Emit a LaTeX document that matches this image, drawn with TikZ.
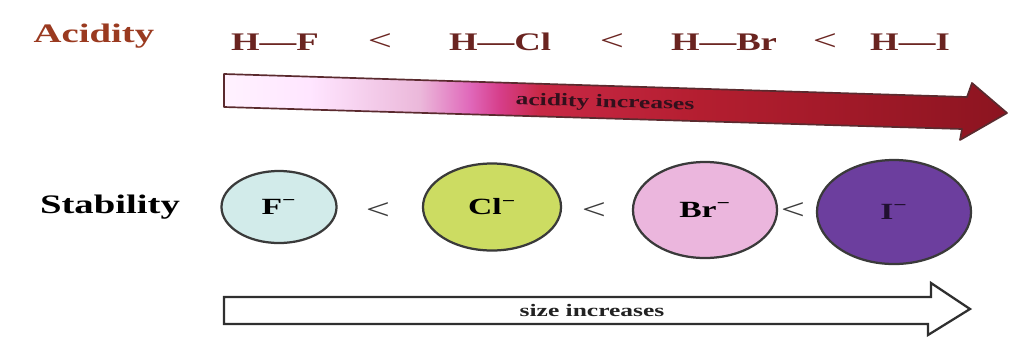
\documentclass[tikz,border=0pt]{standalone}
\usepackage{fontspec}
\setmainfont{Liberation Serif}[FakeStretch=1.45]
\usetikzlibrary{shapes.geometric}

\definecolor{acidred}{HTML}{9A3A20}
\definecolor{bondred}{HTML}{6A2420}
\definecolor{acidedge}{HTML}{5A2A2E}
\definecolor{sizeedge}{HTML}{2F2F2F}
\definecolor{ionedge}{HTML}{3A3A3A}
\definecolor{fluor}{HTML}{D2EBEA}
\definecolor{chlor}{HTML}{CCDC62}
\definecolor{brom}{HTML}{EBB6DD}
\definecolor{iod}{HTML}{6C3E9E}

% pale on the left, magenta, then deep red towards the tip
\pgfdeclarehorizontalshading{acidshade}{100bp}{%
  color(0bp)=(white!95!magenta);
  color(25bp)=(white!95!magenta);
  color(30.5bp)=(white!90!magenta);
  color(37.5bp)=({rgb,255:red,235;green,184;blue,218});
  color(40.7bp)=({rgb,255:red,224;green,104;blue,186});
  color(42.6bp)=({rgb,255:red,214;green,62;blue,138});
  color(45.2bp)=({rgb,255:red,200;green,40;blue,69});
  color(55.4bp)=({rgb,255:red,180;green,30;blue,48});
  color(75bp)=({rgb,255:red,140;green,20;blue,32});
  color(100bp)=({rgb,255:red,140;green,20;blue,32})}

\begin{document}
\begin{tikzpicture}[x=0.025cm, y=-0.025cm,
  rowlabel/.style={font=\bfseries\fontsize{19}{21}\selectfont},
  formula/.style={font=\bfseries\fontsize{18}{20}\selectfont, text=bondred},
  lessthan/.style={font=\fontsize{21}{22}\selectfont},
  ion/.style={ellipse, draw=ionedge, line width=1.6pt, inner sep=0pt,
    font=\bfseries\fontsize{16.5}{18}\selectfont},
  arrowtext/.style={font=\bfseries\fontsize{12.5}{14}\selectfont}]
  \useasboundingbox (0,0) rectangle (1012,351);
  % top row: the hydrogen halides
  \node[rowlabel, text=acidred] (acidity) at (94,36) {Acidity};
  \foreach \nm/\x/\hal in {hf/275/F, hcl/500/Cl, hbr/724/Br, hi/910/I}
    \node[formula] (\nm) at (\x,42) {H—\hal};
  \foreach \nm/\x in {lta/380, ltb/612, ltc/825}
    \node[lessthan, text=bondred] (\nm) at (\x,42) {<};
  % acidity arrow, slightly tilted, shaded pale -> deep red
  \shadedraw[shading=acidshade, draw=acidedge, line width=1.2pt, line join=round]
    (224,74) -- (967,97) -- (972,83) -- (1007,113) -- (960,140)
    -- (962,129) -- (224,107) -- cycle;
  \node[arrowtext, text={rgb,255:red,50;green,16;blue,28}, rotate=-1.6]
    (acidtext) at (605,103) {acidity increases};
  % bottom row: the halide ions, growing
  \node[rowlabel] (stability) at (110,207) {Stability};
  \node[ion, fill=fluor, minimum width=2.875cm, minimum height=1.8cm]
    (fion) at (279,207) {F\textsuperscript{−}};
  \node[ion, fill=chlor, minimum width=3.45cm, minimum height=2.175cm]
    (clion) at (492,207) {Cl\textsuperscript{−}};
  \node[ion, fill=brom, minimum width=3.6cm, minimum height=2.4cm]
    (brion) at (705,210) {Br\textsuperscript{−}};
  \node[ion, fill=iod, minimum width=3.85cm, minimum height=2.6cm,
    text={rgb,255:red,32;green,16;blue,48}]
    (iion) at (894,212) {I\textsuperscript{−}};
  \foreach \nm/\x in {ltd/378, lte/594, ltf/793}
    \node[lessthan, text=ionedge] (\nm) at (\x,211) {<};
  % size arrow, open outline
  \draw[draw=sizeedge, fill=white, line width=1.6pt, line join=miter]
    (224,297) -- (931,297) -- (931,283) -- (970,309) -- (928,335)
    -- (928,324) -- (224,324) -- cycle;
  \node[arrowtext, text={rgb,255:red,34;green,34;blue,34}]
    (sizetext) at (592,310) {size increases};
\end{tikzpicture}
\end{document}
